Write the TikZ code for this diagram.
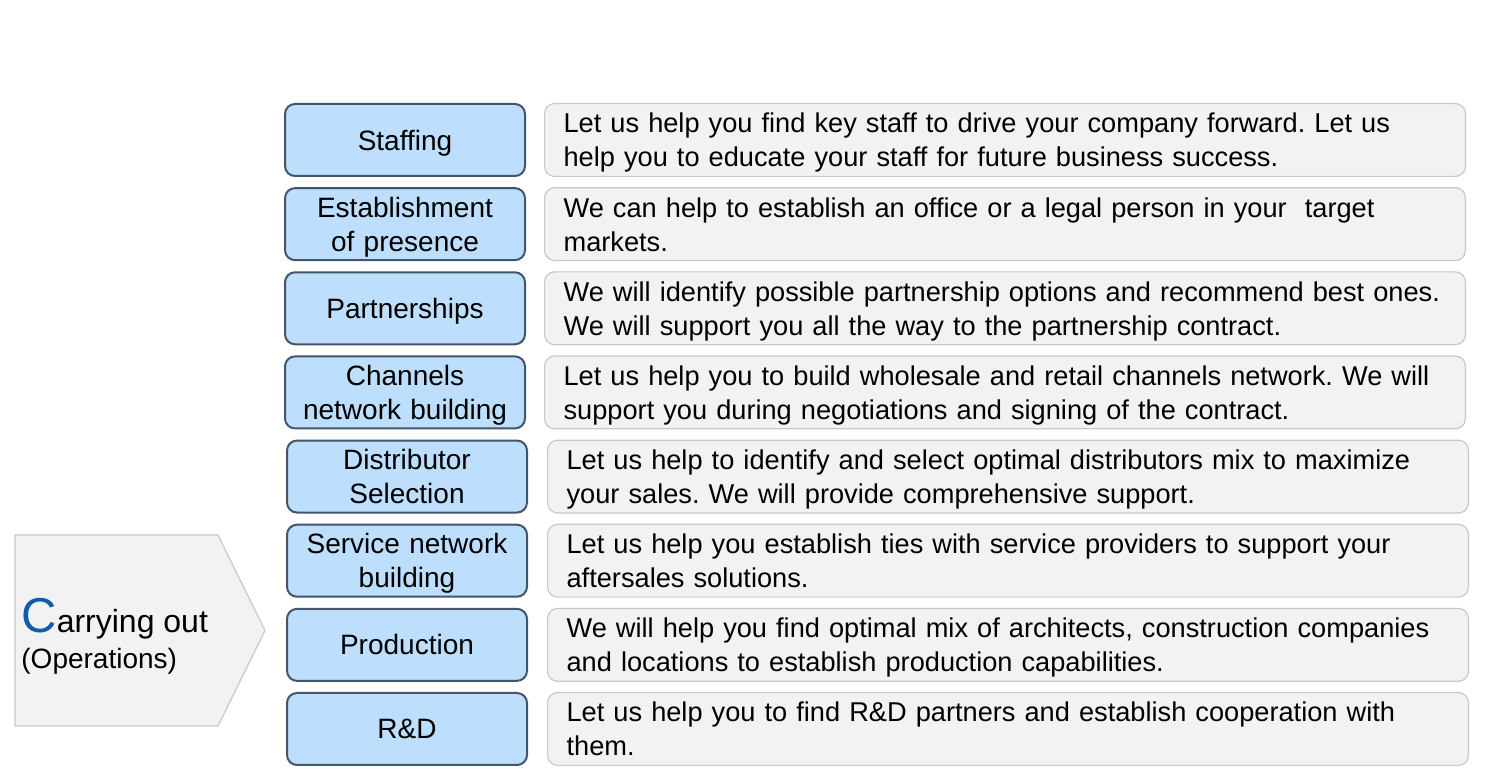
\documentclass[tikz,border=0pt]{standalone}
\usepackage{fontspec}
\setmainfont{Liberation Sans}
\usetikzlibrary{positioning}
\definecolor{keyblue}{RGB}{189,222,252}
\definecolor{keyline}{RGB}{68,84,106}
\definecolor{boxgrey}{RGB}{242,242,242}
\definecolor{boxline}{RGB}{200,200,200}
\definecolor{capblue}{RGB}{16,92,170}
\frenchspacing
\newcommand{\rowstrut}{\rule[-3pt]{0pt}{16pt}}
\tikzset{
  keybox/.style={draw=keyline,fill=keyblue,line width=1pt,rounded corners=5pt,
    text width=116pt,minimum height=36pt,align=center,inner xsep=2pt,inner ysep=0pt,
    font=\fontsize{14}{17}\selectfont,
    execute at begin node=\rowstrut,execute at end node=\rowstrut},
  descbox/.style={draw=boxline,fill=boxgrey,line width=0.6pt,rounded corners=5pt,
    text width=441.4pt,inner xsep=9.5pt,inner ysep=0pt,minimum height=36.4pt,align=left,
    font=\fontsize{13.6}{17}\selectfont,
    execute at begin node=\rowstrut,execute at end node=\rowstrut}
}
\begin{document}
\begin{tikzpicture}[x=0.5pt,y=-0.5pt]
    \useasboundingbox (0,0) rectangle (1489,781);

    \draw[draw=boxline,fill=boxgrey,line width=0.6pt] (15,535) -- (218,535) -- (265,630.5) -- (218,726) -- (15,726) -- cycle;
    \node[anchor=base west,inner sep=0pt,font=\fontsize{16}{17}\selectfont] (carry) at (21,632) {{\color{capblue}\fontsize{24.5}{28}\selectfont C}arrying out};
    \node[anchor=base west,inner sep=0pt,font=\fontsize{14}{17}\selectfont] (oper) at (21,668) {(Operations)};

    \node[keybox,anchor=north west] (k1) at (284,103) {Staffing};
    \node[keybox,below=5.07pt of k1] (k2) {Establishment\\of presence};
    \node[keybox,below=5.07pt of k2] (k3) {Partnerships};
    \node[keybox,below=5.07pt of k3] (k4) {Channels\\network building};
    \node[keybox,below=5.07pt of k4,xshift=1pt] (k5) {Distributor\\Selection};
    \node[keybox,below=5.07pt of k5] (k6) {Service network\\building};
    \node[keybox,below=5.07pt of k6] (k7) {Production};
    \node[keybox,below=5.07pt of k7] (k8) {R\&D};

    \node[descbox,right=9pt of k1] (d1) {Let us help you find key staff to drive your company forward. Let us\\help you to educate your staff for future business success.};
    \node[descbox,right=9pt of k2] (d2) {We can help to establish an office or a legal person in your\ \ target\\markets.};
    \node[descbox,right=9pt of k3] (d3) {We will identify possible partnership options and recommend best ones.\\We will support you all the way to the partnership contract.};
    \node[descbox,right=9pt of k4] (d4) {Let us help you to build wholesale and retail channels network. We will\\support you during negotiations and signing of the contract.};
    \node[descbox,right=9.5pt of k5] (d5) {Let us help to identify and select optimal distributors mix to maximize\\your sales. We will provide comprehensive support.};
    \node[descbox,right=9.5pt of k6] (d6) {Let us help you establish ties with service providers to support your\\aftersales solutions.};
    \node[descbox,right=9.5pt of k7] (d7) {We will help you find optimal mix of architects, construction companies\\and locations to establish production capabilities.};
    \node[descbox,right=9.5pt of k8] (d8) {Let us help you to find R\&D partners and establish cooperation with\\them.};
\end{tikzpicture}
\end{document}
